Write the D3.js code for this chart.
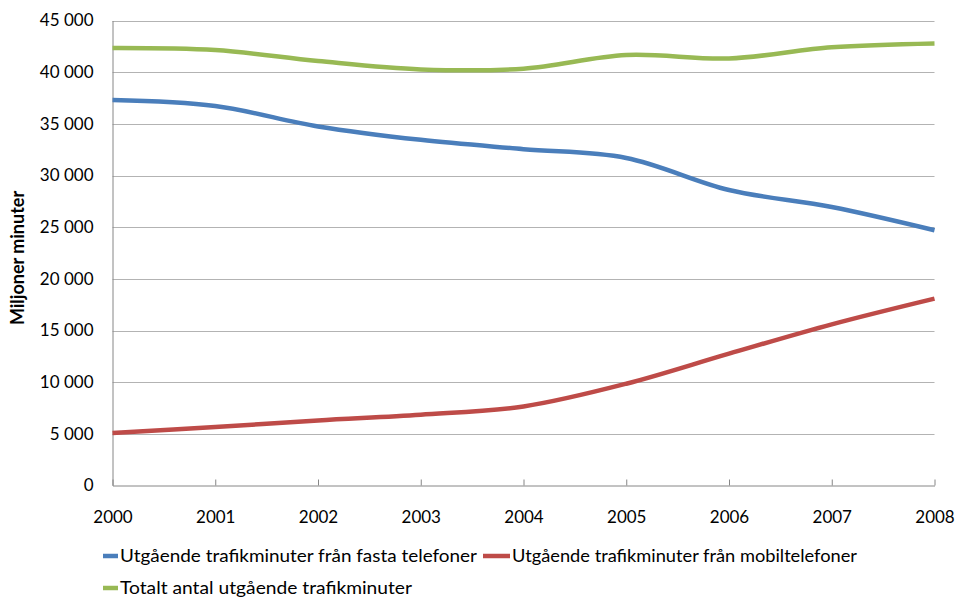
<!DOCTYPE html>
<html><head><meta charset="utf-8">
<script src="https://cdn.jsdelivr.net/npm/d3@7"></script>
<style>body{margin:0;background:#fff}svg{display:block}</style>
</head><body>
<svg id="c" width="958" height="598"></svg>
<script>
const years = [2000,2001,2002,2003,2004,2005,2006,2007,2008];
const fasta = [37300,36720,34750,33450,32550,31700,28600,26950,24700];
const mobil = [5070,5650,6300,6850,7650,9850,12760,15600,18090];
const totalt = [42340,42140,41080,40270,40340,41660,41330,42400,42780];
const yTicks = [0,5000,10000,15000,20000,25000,30000,35000,40000,45000];
const seriesNames = ["Utgående trafikminuter från fasta telefoner","Utgående trafikminuter från mobiltelefoner","Totalt antal utgående trafikminuter"];
const colors = ["#4a7ebb","#be4b48","#98b954"];
const yLabel = "Miljoner minuter";

const svg = d3.select("#c");
const font = "Lato, 'Open Sans', sans-serif";
const L = 112.5, R = 934.5, T = 20.5, B = 485.5;
const x = d3.scaleLinear().domain([2000,2008]).range([L,R]);
const y = d3.scaleLinear().domain([0,45000]).range([B,T]);
const fmt = v => d3.format(",")(v).replace(/,/g," ");

// gridlines
svg.append("g").selectAll("line").data(yTicks.filter(d=>d>0)).join("line")
  .attr("x1",L).attr("x2",R).attr("y1",d=>Math.round(y(d))+0.5).attr("y2",d=>Math.round(y(d))+0.5)
  .attr("stroke","#b3b3b3").attr("stroke-width",1);

// y axis
const ya = svg.append("g").attr("transform",`translate(${L},0)`)
  .call(d3.axisLeft(y).tickValues(yTicks).tickSize(0).tickPadding(19).tickFormat(d=>d===0?"0":fmt(d)));
ya.select(".domain").attr("stroke","#868686");
ya.selectAll("text").attr("font-family",font).attr("font-size",17).attr("fill","#000");

// x axis
const xa = svg.append("g").attr("transform",`translate(0,${B})`)
  .call(d3.axisBottom(x).tickValues(years).tickFormat(d3.format("d")).tickSizeInner(-6).tickSizeOuter(0).tickPadding(25));
xa.select(".domain").attr("stroke","#868686");
xa.selectAll(".tick line").attr("stroke","#868686");
xa.selectAll("text").attr("font-family",font).attr("font-size",17).attr("fill","#000");

// y label
svg.append("text").attr("transform","translate(24,258) rotate(-90)").attr("text-anchor","middle")
  .attr("font-family",font).attr("font-size",18).attr("font-weight","bold").text(yLabel);

// lines
const line = d3.line().x((d,i)=>x(years[i])).y(d=>y(d)).curve(d3.curveCatmullRom.alpha(0.5));
[fasta,mobil,totalt].forEach((s,k)=>{
  svg.append("path").datum(s).attr("d",line).attr("fill","none")
    .attr("stroke",colors[k]).attr("stroke-width",4.5).attr("stroke-linejoin","round");
});

// legend
const leg = [{x:103,y:556,w:15,k:0,tx:120,tw:357},{x:483,y:556,w:27,k:1,tx:512,tw:345},{x:103,y:588,w:15,k:2,tx:120,tw:292}];
leg.forEach(o=>{
  svg.append("line").attr("x1",o.x).attr("x2",o.x+o.w).attr("y1",o.y).attr("y2",o.y)
    .attr("stroke",colors[o.k]).attr("stroke-width",4.5);
  svg.append("text").attr("x",o.tx).attr("y",o.y+5.5).attr("font-family",font).attr("font-size",17)
    .attr("textLength",o.tw).attr("lengthAdjust","spacingAndGlyphs").text(seriesNames[o.k]);
});
</script>
</body></html>
